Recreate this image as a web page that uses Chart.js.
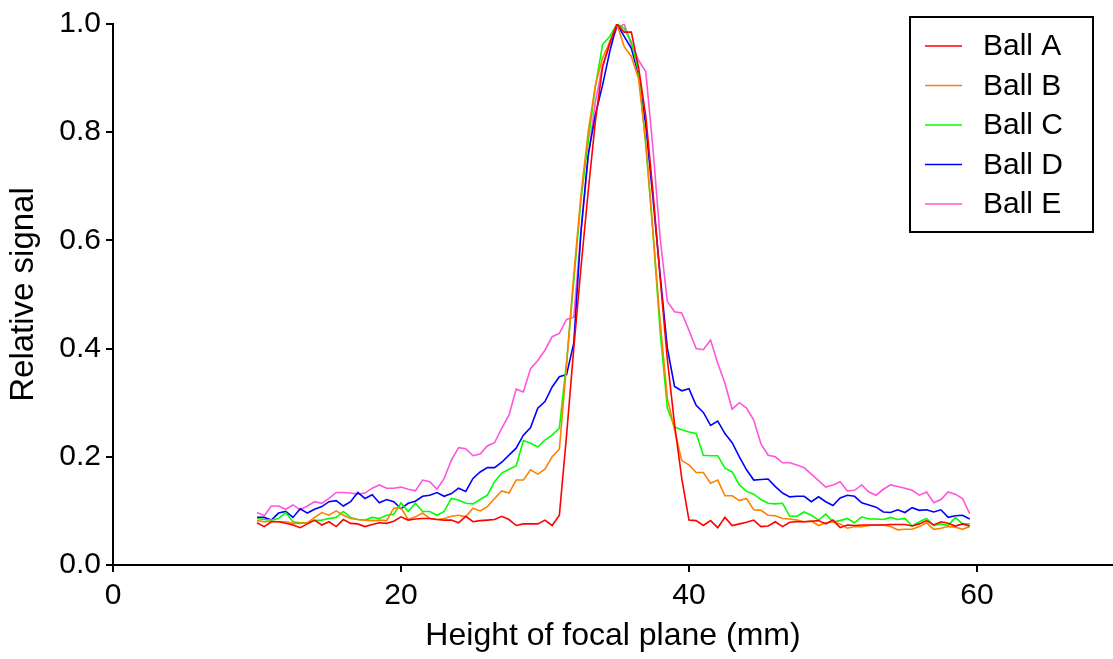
<!DOCTYPE html>
<html>
<head>
<meta charset="utf-8">
<title>Relative signal vs height of focal plane</title>
<script src="https://cdn.jsdelivr.net/npm/chart.js@4.4.1/dist/chart.umd.min.js"></script>
<style>
  html, body { margin: 0; padding: 0; background: #fff; }
  #wrap { width: 1113px; height: 659px; position: relative; }
</style>
</head>
<body>
<div id="wrap"><canvas id="chart-focal"></canvas></div>
<script>
// height of focal plane (mm), 0.5 mm steps
const heightMm = [
  10, 10.5, 11, 11.5, 12, 12.5, 13, 13.5, 14, 14.5,
  15, 15.5, 16, 16.5, 17, 17.5, 18, 18.5, 19, 19.5,
  20, 20.5, 21, 21.5, 22, 22.5, 23, 23.5, 24, 24.5,
  25, 25.5, 26, 26.5, 27, 27.5, 28, 28.5, 29, 29.5,
  30, 30.5, 31, 31.5, 32, 32.5, 33, 33.5, 34, 34.5,
  35, 35.5, 36, 36.5, 37, 37.5, 38, 38.5, 39, 39.5,
  40, 40.5, 41, 41.5, 42, 42.5, 43, 43.5, 44, 44.5,
  45, 45.5, 46, 46.5, 47, 47.5, 48, 48.5, 49, 49.5,
  50, 50.5, 51, 51.5, 52, 52.5, 53, 53.5, 54, 54.5,
  55, 55.5, 56, 56.5, 57, 57.5, 58, 58.5, 59, 59.5,
];

const ballA = [
  0.078, 0.071, 0.080, 0.080, 0.077, 0.074, 0.069, 0.076, 0.083, 0.074,
  0.080, 0.071, 0.084, 0.077, 0.076, 0.071, 0.075, 0.078, 0.077, 0.081,
  0.089, 0.083, 0.085, 0.086, 0.086, 0.084, 0.083, 0.083, 0.078, 0.090,
  0.080, 0.082, 0.083, 0.084, 0.090, 0.084, 0.073, 0.076, 0.076, 0.076,
  0.083, 0.073, 0.092, 0.24, 0.40, 0.55, 0.69, 0.82, 0.92, 0.965,
  1.0, 0.985, 0.985, 0.92, 0.83, 0.69, 0.53, 0.38, 0.26, 0.16,
  0.083, 0.082, 0.073, 0.082, 0.069, 0.088, 0.073, 0.076, 0.079, 0.083,
  0.071, 0.072, 0.080, 0.071, 0.079, 0.080, 0.080, 0.081, 0.082, 0.076,
  0.083, 0.069, 0.074, 0.073, 0.074, 0.074, 0.074, 0.074, 0.075, 0.075,
  0.075, 0.072, 0.076, 0.082, 0.074, 0.080, 0.077, 0.072, 0.076, 0.072,
];

const ballB = [
  0.082, 0.080, 0.081, 0.080, 0.080, 0.077, 0.077, 0.078, 0.088, 0.097,
  0.092, 0.100, 0.092, 0.086, 0.084, 0.083, 0.082, 0.083, 0.082, 0.105,
  0.106, 0.084, 0.089, 0.096, 0.086, 0.084, 0.086, 0.090, 0.092, 0.089,
  0.105, 0.100, 0.108, 0.123, 0.137, 0.133, 0.157, 0.157, 0.176, 0.168,
  0.177, 0.200, 0.214, 0.37, 0.536, 0.684, 0.80, 0.887, 0.937, 0.967,
  1.0, 0.958, 0.94, 0.899, 0.782, 0.616, 0.45, 0.308, 0.25, 0.193,
  0.185, 0.171, 0.171, 0.151, 0.157, 0.128, 0.128, 0.119, 0.123, 0.102,
  0.101, 0.092, 0.091, 0.086, 0.085, 0.083, 0.080, 0.081, 0.073, 0.078,
  0.080, 0.076, 0.068, 0.071, 0.071, 0.073, 0.074, 0.074, 0.071, 0.065,
  0.066, 0.066, 0.071, 0.078, 0.066, 0.068, 0.071, 0.070, 0.066, 0.071,
];

const ballC = [
  0.086, 0.084, 0.083, 0.086, 0.097, 0.080, 0.078, 0.078, 0.082, 0.083,
  0.086, 0.088, 0.099, 0.088, 0.084, 0.083, 0.088, 0.086, 0.092, 0.094,
  0.115, 0.099, 0.114, 0.099, 0.099, 0.092, 0.099, 0.123, 0.120, 0.114,
  0.113, 0.121, 0.129, 0.154, 0.170, 0.177, 0.183, 0.230, 0.225, 0.218,
  0.231, 0.240, 0.253, 0.375, 0.524, 0.675, 0.782, 0.884, 0.962, 0.977,
  1.0, 0.992, 0.967, 0.912, 0.776, 0.616, 0.431, 0.29, 0.255, 0.25,
  0.246, 0.243, 0.203, 0.202, 0.202, 0.179, 0.172, 0.148, 0.136, 0.131,
  0.121, 0.114, 0.113, 0.114, 0.090, 0.090, 0.098, 0.092, 0.083, 0.094,
  0.080, 0.082, 0.086, 0.078, 0.089, 0.085, 0.085, 0.084, 0.088, 0.084,
  0.086, 0.072, 0.080, 0.086, 0.073, 0.076, 0.073, 0.088, 0.076, 0.076,
];

const ballD = [
  0.088, 0.088, 0.083, 0.096, 0.099, 0.088, 0.104, 0.096, 0.103, 0.108,
  0.117, 0.119, 0.109, 0.117, 0.134, 0.123, 0.130, 0.115, 0.121, 0.117,
  0.104, 0.114, 0.118, 0.127, 0.129, 0.134, 0.127, 0.132, 0.142, 0.136,
  0.160, 0.172, 0.180, 0.180, 0.190, 0.203, 0.216, 0.240, 0.254, 0.290,
  0.302, 0.329, 0.348, 0.352, 0.41, 0.616, 0.758, 0.832, 0.887, 0.949,
  1.0, 0.977, 0.955, 0.906, 0.813, 0.678, 0.536, 0.401, 0.33, 0.322,
  0.326, 0.295, 0.282, 0.258, 0.266, 0.243, 0.226, 0.200, 0.176, 0.157,
  0.158, 0.159, 0.145, 0.133, 0.126, 0.127, 0.127, 0.117, 0.126, 0.117,
  0.110, 0.124, 0.129, 0.127, 0.115, 0.111, 0.107, 0.098, 0.097, 0.102,
  0.097, 0.106, 0.101, 0.102, 0.098, 0.102, 0.088, 0.091, 0.092, 0.085,
];

const ballE = [
  0.097, 0.091, 0.109, 0.109, 0.103, 0.111, 0.102, 0.109, 0.117, 0.114,
  0.123, 0.134, 0.134, 0.133, 0.131, 0.133, 0.142, 0.148, 0.142, 0.142,
  0.144, 0.140, 0.137, 0.157, 0.154, 0.140, 0.160, 0.194, 0.217, 0.215,
  0.202, 0.205, 0.220, 0.226, 0.253, 0.277, 0.325, 0.320, 0.363, 0.378,
  0.397, 0.422, 0.428, 0.454, 0.458, 0.616, 0.752, 0.856, 0.924, 0.961,
  0.992, 1.0, 0.961, 0.933, 0.912, 0.77, 0.604, 0.487, 0.468, 0.466,
  0.434, 0.40, 0.398, 0.416, 0.373, 0.336, 0.288, 0.300, 0.290, 0.268,
  0.224, 0.203, 0.200, 0.189, 0.189, 0.185, 0.180, 0.168, 0.156, 0.144,
  0.148, 0.154, 0.137, 0.138, 0.148, 0.135, 0.129, 0.140, 0.148, 0.145,
  0.142, 0.138, 0.129, 0.135, 0.115, 0.121, 0.135, 0.131, 0.123, 0.095,
];

const seriesNames = ["Ball A", "Ball B", "Ball C", "Ball D", "Ball E"];
const seriesValues = [ballA, ballB, ballC, ballD, ballE];
const seriesColors = ["#ff0000", "#ff8000", "#00ff00", "#0000ff", "#ff55dd"];

const FONT = "'Liberation Sans', Arial, Helvetica, sans-serif";

function toPoints(values) {
  return heightMm.map((x, i) => ({ x, y: values[i] }));
}

// boxed legend in the top right corner, like the original
const boxLegend = {
  id: "boxLegend",
  afterDraw(chart) {
    const ctx = chart.ctx;
    ctx.save();
    ctx.strokeStyle = "#000";
    ctx.lineWidth = 2;
    ctx.strokeRect(910, 17, 183, 215);
    ctx.font = `30px ${FONT}`;
    ctx.textBaseline = "middle";
    ctx.fillStyle = "#000";
    chart.data.datasets.forEach((ds, i) => {
      const y = 46 + i * 39.5;
      ctx.strokeStyle = ds.borderColor;
      ctx.lineWidth = 1.6;
      ctx.beginPath();
      ctx.moveTo(925, y);
      ctx.lineTo(962, y);
      ctx.stroke();
      ctx.fillText(ds.label, 983, y + 1);
    });
    ctx.restore();
  },
};

window.addEventListener("DOMContentLoaded", () => {
  const ctx = document.getElementById("chart-focal");
  new Chart(ctx, {
    type: "line",
    data: {
      datasets: seriesNames.map((name, i) => ({
        label: name,
        data: toPoints(seriesValues[i]),
        borderColor: seriesColors[i],
        backgroundColor: seriesColors[i],
        borderWidth: 1.6,
        pointRadius: 0,
        tension: 0,
        fill: false,
      })),
    },
    options: {
      responsive: true,
      maintainAspectRatio: false,
      animation: false,
      devicePixelRatio: 1,
      layout: { padding: { top: 24, right: 0, left: 0, bottom: 0 } },
      plugins: {
        legend: { display: false },
        tooltip: { enabled: false },
      },
      scales: {
        x: {
          type: "linear",
          min: 0,
          max: 69.45,
          afterFit: (scale) => { scale.height = 94; },
          border: { display: true, color: "#000", width: 2 },
          grid: { drawOnChartArea: false, drawTicks: true, tickLength: 7, color: "#000", lineWidth: 2 },
          ticks: {
            stepSize: 20,
            includeBounds: false,
            maxRotation: 0,
            padding: 6,
            color: "#000",
            font: { family: FONT, size: 30 },
          },
          title: {
            display: true,
            text: "Height of focal plane (mm)",
            color: "#000",
            font: { family: FONT, size: 32 },
            padding: { top: 0, bottom: 4 },
          },
        },
        y: {
          min: 0,
          max: 1,
          afterFit: (scale) => { scale.width = 113; },
          border: { display: true, color: "#000", width: 2 },
          grid: { drawOnChartArea: false, drawTicks: true, tickLength: 7, color: "#000", lineWidth: 2 },
          ticks: {
            stepSize: 0.2,
            padding: 5,
            color: "#000",
            font: { family: FONT, size: 30 },
            callback: (v) => Number(v).toFixed(1),
          },
          title: {
            display: true,
            text: "Relative signal",
            color: "#000",
            font: { family: FONT, size: 33 },
            padding: { top: 4, bottom: 0 },
          },
        },
      },
    },
    plugins: [boxLegend],
  });
});
</script>
</body>
</html>
